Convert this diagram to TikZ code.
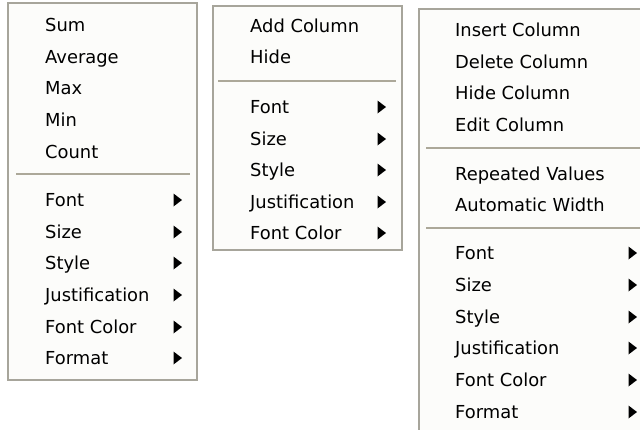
\documentclass[tikz,border=0pt]{standalone}
\usepackage{fontspec}
\setmainfont{DejaVu Sans}
\begin{document}
\begin{tikzpicture}[x=1pt,y=-1pt,
  menubox/.style={draw=menuborder,fill=menufill,line width=1.4pt},
  item/.style={anchor=base west,inner sep=0pt,font=\fontsize{17.9}{20}\selectfont,text=black},
  sepline/.style={draw=sepgray,line width=1.3pt},
  subarrow/.style={fill=black,draw=none}]
\definecolor{menuborder}{HTML}{A7A59B}
\definecolor{menufill}{HTML}{FCFCFA}
\definecolor{sepgray}{HTML}{ACA899}
\useasboundingbox (0,0) rectangle (640,429);
\fill[white] (0,0) rectangle (640,429);
% ---------- menu 1 ----------
\draw[menubox] (8,3) rectangle (197,380);
\foreach \t/\y/\n in {Sum/25/a1,Average/57/a2,Max/88/a3,Min/120/a4,Count/152/a5}
  \node[item] (\n) at (45,\y+6.5) {\t};
\draw[sepline] (16,174) -- (190,174);
\foreach \t/\y/\n in {Font/200/b1,Size/232/b2,Style/263/b3,Justification/295/b4,Font Color/327/b5,Format/358/b6}{
  \node[item] (\n) at (45,\y+6.5) {\t};
  \fill[subarrow] (173.5,\y-6.5) -- (182,\y) -- (173.5,\y+6.5) -- cycle;}
% ---------- menu 2 ----------
\draw[menubox] (213,6) rectangle (402,250);
\foreach \t/\y/\n in {Add Column/26/c1,Hide/57/c2}
  \node[item] (\n) at (250,\y+6.5) {\t};
\draw[sepline] (218,81) -- (396,81);
\foreach \t/\y/\n in {Font/107/d1,Size/139/d2,Style/170/d3,Justification/202/d4,Font Color/233/d5}{
  \node[item] (\n) at (250,\y+6.5) {\t};
  \fill[subarrow] (377.5,\y-6.5) -- (386,\y) -- (377.5,\y+6.5) -- cycle;}
% ---------- menu 3 ----------
\draw[menubox] (419,9) rectangle (660,445);
\foreach \t/\y/\n in {Insert Column/30/e1,Delete Column/62/e2,Hide Column/93/e3,Edit Column/125/e4}
  \node[item] (\n) at (455,\y+6.5) {\t};
\draw[sepline] (426,148) -- (645,148);
\foreach \t/\y/\n in {Repeated Values/174/f1,Automatic Width/205/f2}
  \node[item] (\n) at (455,\y+6.5) {\t};
\draw[sepline] (426,228) -- (645,228);
\foreach \t/\y/\n in {Font/253/g1,Size/285/g2,Style/317/g3,Justification/348/g4,Font Color/380/g5,Format/412/g6}{
  \node[item] (\n) at (455,\y+6.5) {\t};
  \fill[subarrow] (628.5,\y-6.5) -- (637,\y) -- (628.5,\y+6.5) -- cycle;}
\end{tikzpicture}
\end{document}
